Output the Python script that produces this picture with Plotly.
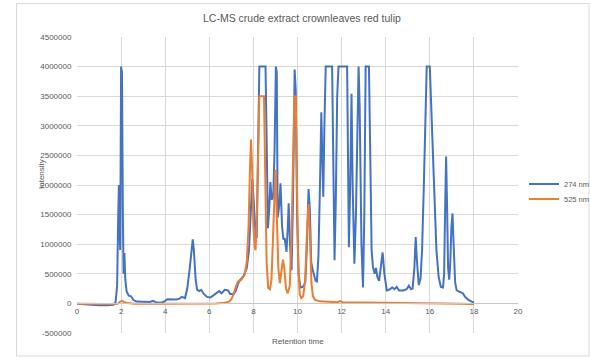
import plotly.graph_objects as go

# ---- data ----
t_274 = [0.0, 0.3, 0.6, 1.0, 1.4, 1.65, 1.75, 1.82, 1.87, 1.9, 1.93, 1.96, 2.0, 2.04, 2.08, 2.11, 2.15,
         2.19, 2.25, 2.35, 2.45, 2.55, 2.7, 2.9, 3.1, 3.3, 3.45, 3.6, 3.8, 3.95, 4.1, 4.3, 4.5, 4.65,
         4.75, 4.9, 5.0, 5.1, 5.2, 5.25, 5.3, 5.38, 5.45, 5.55, 5.63, 5.75, 5.9, 6.05, 6.2, 6.35, 6.45,
         6.55, 6.7, 6.85, 6.95, 7.1, 7.2, 7.3, 7.4, 7.55, 7.7, 7.8, 7.88, 7.95, 8.02, 8.1, 8.15, 8.22,
         8.27, 8.55, 8.6, 8.66, 8.72, 8.77, 8.83, 8.9, 8.96, 9.02, 9.06, 9.1, 9.17, 9.23, 9.3, 9.36,
         9.42, 9.5, 9.56, 9.6, 9.66, 9.73, 9.8, 9.87, 9.92, 9.98, 10.05, 10.13, 10.25, 10.35, 10.42,
         10.5, 10.56, 10.62, 10.68, 10.75, 10.82, 10.88, 10.95, 11.03, 11.08, 11.13, 11.17, 11.22,
         11.28, 11.57, 11.62, 11.68, 11.74, 11.8, 11.86, 12.25, 12.29, 12.33, 12.39, 12.45, 12.5,
         12.58, 12.65, 12.72, 12.77, 12.82, 12.9, 12.97, 13.03, 13.09, 13.24, 13.3, 13.36, 13.42,
         13.5, 13.56, 13.62, 13.7, 13.76, 13.86, 13.94, 14.05, 14.15, 14.3, 14.4, 14.5, 14.6, 14.8,
         14.95, 15.05, 15.15, 15.22, 15.3, 15.36, 15.42, 15.5, 15.58, 15.65, 15.73, 15.8, 15.86,
         16.0, 16.08, 16.15, 16.22, 16.3, 16.4, 16.5, 16.6, 16.65, 16.7, 16.74, 16.78, 16.83, 16.88,
         16.93, 16.98, 17.03, 17.08, 17.15, 17.22, 17.35, 17.5, 17.6, 17.75, 17.9, 18.0]
i_274 = [-5000, -15000, -25000, -30000, -30000, -25000, 20000, 300000, 1500000, 2000000, 1200000,
         900000, 4000000, 3900000, 1500000, 500000, 850000, 400000, 200000, 130000, 120000, 60000,
         30000, 25000, 20000, 25000, 45000, 15000, 10000, 30000, 70000, 70000, 65000, 80000, 110000,
         90000, 250000, 550000, 1000000, 1080000, 900000, 400000, 230000, 210000, 230000, 160000,
         110000, 100000, 140000, 180000, 210000, 170000, 230000, 220000, 160000, 160000, 210000,
         330000, 400000, 460000, 600000, 900000, 1500000, 2100000, 1700000, 1150000, 1100000,
         2500000, 4000000, 4000000, 2500000, 1270000, 1600000, 2050000, 1750000, 1800000, 2600000,
         4000000, 3900000, 1450000, 1650000, 2030000, 1300000, 1080000, 1100000, 870000, 1300000,
         1690000, 1000000, 560000, 1800000, 3950000, 3600000, 1500000, 500000, 270000, 280000,
         350000, 900000, 1930000, 1600000, 700000, 580000, 480000, 380000, 370000, 800000, 2200000,
         3230000, 2400000, 1800000, 3000000, 4000000, 4000000, 2500000, 730000, 1800000, 3500000,
         4000000, 4000000, 2500000, 950000, 2000000, 3540000, 2000000, 670000, 1500000, 3200000,
         4000000, 3300000, 1000000, 270000, 1500000, 4000000, 4000000, 2500000, 900000, 620000,
         500000, 600000, 450000, 380000, 550000, 860000, 500000, 220000, 230000, 270000, 240000,
         280000, 220000, 220000, 240000, 300000, 240000, 250000, 600000, 1120000, 700000, 310000,
         420000, 900000, 2000000, 3300000, 4000000, 4000000, 3200000, 2300000, 1500000, 900000,
         450000, 280000, 270000, 500000, 1700000, 2480000, 1700000, 600000, 400000, 700000, 1300000,
         1520000, 1000000, 350000, 220000, 200000, 170000, 110000, 60000, 30000, 15000]

t_525 = [0.0, 0.5, 1.0, 1.5, 1.85, 1.95, 2.05, 2.15, 2.3, 2.6, 3.5, 4.5, 5.5, 6.3, 6.7, 6.9, 7.0, 7.1,
         7.2, 7.3, 7.45, 7.6, 7.7, 7.78, 7.84, 7.89, 7.94, 8.0, 8.06, 8.1, 8.16, 8.22, 8.27, 8.48,
         8.53, 8.6, 8.67, 8.75, 8.82, 8.9, 8.96, 9.0, 9.06, 9.13, 9.2, 9.27, 9.34, 9.4, 9.48, 9.56,
         9.65, 9.73, 9.8, 9.86, 9.92, 9.97, 10.03, 10.1, 10.17, 10.26, 10.35, 10.43, 10.5, 10.56,
         10.63, 10.7, 10.8, 11.0, 11.4, 11.8, 11.93, 12.05, 13.0, 14.0, 15.0, 16.0, 17.0, 17.5, 18.0]
i_525 = [-5000, -10000, -12000, -12000, -8000, 30000, 40000, 20000, 5000, -5000, -8000, -8000, -5000,
         0, 10000, 30000, 70000, 150000, 280000, 370000, 400000, 480000, 700000, 1300000, 2200000,
         2770000, 2300000, 1300000, 950000, 900000, 1500000, 3000000, 3500000, 3500000, 2300000,
         700000, 260000, 240000, 400000, 1200000, 2000000, 2260000, 1500000, 600000, 340000, 550000,
         740000, 600000, 250000, 170000, 300000, 1200000, 2800000, 3500000, 3500000, 2200000, 700000,
         150000, 90000, 120000, 400000, 1200000, 1680000, 1200000, 350000, 120000, 60000, 35000,
         25000, 20000, 40000, 20000, 15000, 12000, 10000, 8000, 5000, -5000, -15000]

series_names = ["274 nm", "525 nm"]
series_colors = ["#4472C4", "#ED7D31"]

x_tick_vals = [0, 2, 4, 6, 8, 10, 12, 14, 16, 18, 20]
y_tick_vals = [-500000, 0, 500000, 1000000, 1500000, 2000000, 2500000, 3000000, 3500000, 4000000, 4500000]
y_tick_labels = ["-500000", "0", "500000", "1000000", "1500000", "2000000", "2500000", "3000000",
                 "3500000", "4000000", "4500000"]

title_text = "LC-MS crude extract crownleaves red tulip"
x_title = "Retention time"
y_title = "Intensity"

# ---- figure ----
FONT = "Liberation Sans"
GRID = "#d9d9d9"
TXT = "#595959"

W, H = 590, 357
L, R, T, B = 77, 72, 37, 24
pw, ph = W - L - R, H - T - B

def px_x(p):
    return (p - L) / pw

def px_y(p):
    return (H - B - p) / ph

fig = go.Figure()
legend_ids = ["legend", "legend2"]
for t, v, name, col, lg in [(t_274, i_274, series_names[0], series_colors[0], legend_ids[0]),
                            (t_525, i_525, series_names[1], series_colors[1], legend_ids[1])]:
    fig.add_trace(go.Scatter(x=t, y=v, mode="lines", name=name, legend=lg,
                             line=dict(color=col, width=2)))

legend_style = dict(xanchor="left", yanchor="middle", font=dict(size=7.5, color=TXT, family=FONT),
                    bgcolor="rgba(0,0,0,0)", itemwidth=30, borderwidth=0)

fig.update_layout(
    width=W, height=H,
    margin=dict(l=L, r=R, t=T, b=B, autoexpand=False),
    paper_bgcolor="white", plot_bgcolor="white",
    font=dict(family=FONT, color=TXT, size=8),
    showlegend=True,
    legend=dict(x=px_x(524), y=px_y(184), **legend_style),
    legend2=dict(x=px_x(524), y=px_y(199), **legend_style),
    xaxis=dict(range=[0, 20], tickvals=x_tick_vals, showgrid=True, gridcolor=GRID, gridwidth=1,
               zeroline=False, showline=True, linecolor="#c8c8c8", linewidth=1,
               anchor="free", position=0.1, ticks="", tickfont=dict(size=8, color=TXT),
               automargin=False),
    yaxis=dict(range=[-500000, 4500000], tickvals=y_tick_vals, ticktext=y_tick_labels,
               showgrid=True, gridcolor=GRID, gridwidth=1, zeroline=False, showline=False,
               ticks="outside", ticklen=3, tickcolor="rgba(0,0,0,0)",
               tickfont=dict(size=8, color=TXT), automargin=False),
    annotations=[
        dict(text=title_text, xref="paper", yref="paper", x=px_x(302), y=px_y(18),
             xanchor="center", yanchor="middle", showarrow=False,
             font=dict(size=10.5, color=TXT, family=FONT)),
        dict(text=x_title, xref="paper", yref="paper", x=0.5, y=px_y(341),
             xanchor="center", yanchor="middle", showarrow=False,
             font=dict(size=8, color=TXT, family=FONT)),
        dict(text=y_title, xref="paper", yref="paper", x=px_x(41), y=px_y(174),
             xanchor="center", yanchor="middle", showarrow=False, textangle=-90,
             font=dict(size=8, color=TXT, family=FONT)),
    ],
    shapes=[dict(type="rect", xref="paper", yref="paper", x0=px_x(16.5), x1=px_x(589),
                 y0=px_y(356), y1=px_y(3.5), line=dict(color=GRID, width=1), layer="below")],
)

fig.write_html("out.html")
